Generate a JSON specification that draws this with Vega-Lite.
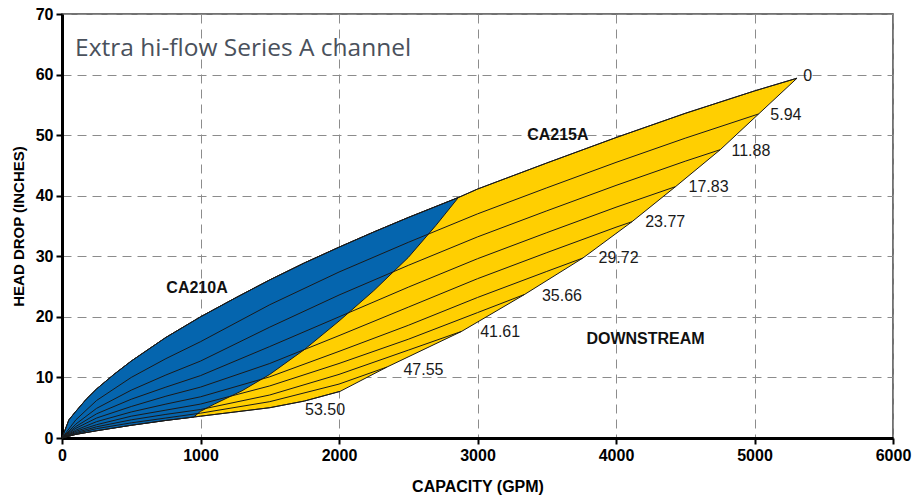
{
  "$schema": "https://vega.github.io/schema/vega-lite/v6.json",
  "width": 831,
  "height": 424,
  "autosize": {"type": "none"},
  "padding": {"left": 62, "top": 14, "right": 20, "bottom": 59},
  "background": "white",
  "config": {
    "view": {"stroke": "#444444", "strokeWidth": 1.5},
    "font": "Liberation Sans"
  },
  "datasets": {
    "yellow": [
      {"i": 1, "x": 0, "y": 0}, {"i": 2, "x": 50, "y": 3.0}, {"i": 3, "x": 100, "y": 4.4}, {"i": 4, "x": 175, "y": 6.4},
      {"i": 5, "x": 250, "y": 8.1}, {"i": 6, "x": 375, "y": 10.5}, {"i": 7, "x": 500, "y": 12.7}, {"i": 8, "x": 750, "y": 16.6},
      {"i": 9, "x": 1000, "y": 20.0}, {"i": 10, "x": 1250, "y": 23.1}, {"i": 11, "x": 1500, "y": 26.1}, {"i": 12, "x": 1750, "y": 28.9},
      {"i": 13, "x": 2000, "y": 31.5}, {"i": 14, "x": 2250, "y": 34.0}, {"i": 15, "x": 2500, "y": 36.4}, {"i": 16, "x": 2862, "y": 39.7},
      {"i": 17, "x": 3000, "y": 41.1}, {"i": 18, "x": 3500, "y": 45.4}, {"i": 19, "x": 4000, "y": 49.6}, {"i": 20, "x": 4500, "y": 53.6},
      {"i": 21, "x": 5000, "y": 57.3}, {"i": 22, "x": 5307, "y": 59.4},
      {"i": 23, "x": 5030, "y": 53.5}, {"i": 24, "x": 4753, "y": 47.6}, {"i": 25, "x": 4430, "y": 41.5}, {"i": 26, "x": 4115, "y": 35.7},
      {"i": 27, "x": 3760, "y": 29.7}, {"i": 28, "x": 3340, "y": 23.7}, {"i": 29, "x": 2885, "y": 17.6}, {"i": 30, "x": 2345, "y": 11.7},
      {"i": 31, "x": 2008, "y": 7.7}, {"i": 32, "x": 1750, "y": 6.1}, {"i": 33, "x": 1500, "y": 5.0}, {"i": 34, "x": 1250, "y": 4.3},
      {"i": 35, "x": 1000, "y": 3.6}, {"i": 36, "x": 750, "y": 2.9}, {"i": 37, "x": 500, "y": 2.1}, {"i": 38, "x": 250, "y": 1.2},
      {"i": 39, "x": 100, "y": 0.6}, {"i": 40, "x": 0, "y": 0}
    ],
    "blue": [
      {"i": 1, "x": 0, "y": 0}, {"i": 2, "x": 50, "y": 3.0}, {"i": 3, "x": 100, "y": 4.4}, {"i": 4, "x": 175, "y": 6.4},
      {"i": 5, "x": 250, "y": 8.1}, {"i": 6, "x": 375, "y": 10.5}, {"i": 7, "x": 500, "y": 12.7}, {"i": 8, "x": 750, "y": 16.6},
      {"i": 9, "x": 1000, "y": 20.0}, {"i": 10, "x": 1250, "y": 23.1}, {"i": 11, "x": 1500, "y": 26.1}, {"i": 12, "x": 1750, "y": 28.9},
      {"i": 13, "x": 2000, "y": 31.5}, {"i": 14, "x": 2250, "y": 34.0}, {"i": 15, "x": 2500, "y": 36.4}, {"i": 16, "x": 2862, "y": 39.7},
      {"i": 17, "x": 2700, "y": 35.1}, {"i": 18, "x": 2500, "y": 29.8}, {"i": 19, "x": 2250, "y": 24.3}, {"i": 20, "x": 2000, "y": 19.3},
      {"i": 21, "x": 1750, "y": 14.6}, {"i": 22, "x": 1500, "y": 10.5}, {"i": 23, "x": 1300, "y": 7.8}, {"i": 24, "x": 1100, "y": 5.6},
      {"i": 25, "x": 1000, "y": 4.4}, {"i": 26, "x": 950, "y": 3.45}, {"i": 27, "x": 750, "y": 2.9}, {"i": 28, "x": 500, "y": 2.1},
      {"i": 29, "x": 250, "y": 1.2}, {"i": 30, "x": 100, "y": 0.6}, {"i": 31, "x": 0, "y": 0}
    ],
    "curves": [
      {"level": "0", "x": 0, "y": 0}, {"level": "0", "x": 50, "y": 3.0}, {"level": "0", "x": 100, "y": 4.4}, {"level": "0", "x": 175, "y": 6.4},
      {"level": "0", "x": 250, "y": 8.1}, {"level": "0", "x": 375, "y": 10.5}, {"level": "0", "x": 500, "y": 12.7}, {"level": "0", "x": 750, "y": 16.6},
      {"level": "0", "x": 1000, "y": 20.0}, {"level": "0", "x": 1250, "y": 23.1}, {"level": "0", "x": 1500, "y": 26.1}, {"level": "0", "x": 1750, "y": 28.9},
      {"level": "0", "x": 2000, "y": 31.5}, {"level": "0", "x": 2250, "y": 34.0}, {"level": "0", "x": 2500, "y": 36.4}, {"level": "0", "x": 2862, "y": 39.7},
      {"level": "0", "x": 3000, "y": 41.1}, {"level": "0", "x": 3500, "y": 45.4}, {"level": "0", "x": 4000, "y": 49.6}, {"level": "0", "x": 4500, "y": 53.6},
      {"level": "0", "x": 5000, "y": 57.3}, {"level": "0", "x": 5307, "y": 59.4},

      {"level": "5.94", "x": 0, "y": 0}, {"level": "5.94", "x": 100, "y": 3.0}, {"level": "5.94", "x": 250, "y": 6.2}, {"level": "5.94", "x": 500, "y": 10.0},
      {"level": "5.94", "x": 750, "y": 13.1}, {"level": "5.94", "x": 1000, "y": 15.9}, {"level": "5.94", "x": 1500, "y": 22.0}, {"level": "5.94", "x": 2000, "y": 27.4},
      {"level": "5.94", "x": 2500, "y": 32.3}, {"level": "5.94", "x": 3000, "y": 37.0}, {"level": "5.94", "x": 3500, "y": 41.3}, {"level": "5.94", "x": 4000, "y": 45.5},
      {"level": "5.94", "x": 4500, "y": 49.5}, {"level": "5.94", "x": 5030, "y": 53.5},

      {"level": "11.88", "x": 0, "y": 0}, {"level": "11.88", "x": 100, "y": 2.3}, {"level": "11.88", "x": 250, "y": 4.9}, {"level": "11.88", "x": 500, "y": 7.9},
      {"level": "11.88", "x": 750, "y": 10.4}, {"level": "11.88", "x": 1000, "y": 12.7}, {"level": "11.88", "x": 1500, "y": 18.3}, {"level": "11.88", "x": 2000, "y": 23.6},
      {"level": "11.88", "x": 2500, "y": 28.5}, {"level": "11.88", "x": 3000, "y": 33.2}, {"level": "11.88", "x": 3500, "y": 37.5}, {"level": "11.88", "x": 4000, "y": 41.7},
      {"level": "11.88", "x": 4500, "y": 45.7}, {"level": "11.88", "x": 4753, "y": 47.6},

      {"level": "17.83", "x": 0, "y": 0}, {"level": "17.83", "x": 100, "y": 1.9}, {"level": "17.83", "x": 250, "y": 4.0}, {"level": "17.83", "x": 500, "y": 6.4},
      {"level": "17.83", "x": 750, "y": 8.4}, {"level": "17.83", "x": 1000, "y": 10.3}, {"level": "17.83", "x": 1500, "y": 15.1}, {"level": "17.83", "x": 2000, "y": 20.0},
      {"level": "17.83", "x": 2500, "y": 24.9}, {"level": "17.83", "x": 3000, "y": 29.6}, {"level": "17.83", "x": 3500, "y": 33.9}, {"level": "17.83", "x": 4000, "y": 38.1},
      {"level": "17.83", "x": 4430, "y": 41.5},

      {"level": "23.77", "x": 0, "y": 0}, {"level": "23.77", "x": 100, "y": 1.6}, {"level": "23.77", "x": 250, "y": 3.3}, {"level": "23.77", "x": 500, "y": 5.2},
      {"level": "23.77", "x": 750, "y": 6.9}, {"level": "23.77", "x": 1000, "y": 8.4}, {"level": "23.77", "x": 1500, "y": 12.3}, {"level": "23.77", "x": 2000, "y": 16.9},
      {"level": "23.77", "x": 2500, "y": 21.6}, {"level": "23.77", "x": 3000, "y": 26.3}, {"level": "23.77", "x": 3500, "y": 30.6}, {"level": "23.77", "x": 4000, "y": 34.8},
      {"level": "23.77", "x": 4115, "y": 35.7},

      {"level": "29.72", "x": 0, "y": 0}, {"level": "29.72", "x": 100, "y": 1.3}, {"level": "29.72", "x": 250, "y": 2.7}, {"level": "29.72", "x": 500, "y": 4.3},
      {"level": "29.72", "x": 750, "y": 5.6}, {"level": "29.72", "x": 1000, "y": 6.8}, {"level": "29.72", "x": 1500, "y": 10.1}, {"level": "29.72", "x": 2000, "y": 14.3},
      {"level": "29.72", "x": 2500, "y": 18.6}, {"level": "29.72", "x": 3000, "y": 23.2}, {"level": "29.72", "x": 3500, "y": 27.5}, {"level": "29.72", "x": 3760, "y": 29.7},

      {"level": "35.66", "x": 0, "y": 0}, {"level": "35.66", "x": 100, "y": 1.1}, {"level": "35.66", "x": 250, "y": 2.2}, {"level": "35.66", "x": 500, "y": 3.6},
      {"level": "35.66", "x": 750, "y": 4.6}, {"level": "35.66", "x": 1000, "y": 5.6}, {"level": "35.66", "x": 1500, "y": 8.6}, {"level": "35.66", "x": 2000, "y": 12.3},
      {"level": "35.66", "x": 2500, "y": 16.3}, {"level": "35.66", "x": 3000, "y": 20.7}, {"level": "35.66", "x": 3340, "y": 23.7},

      {"level": "41.61", "x": 0, "y": 0}, {"level": "41.61", "x": 100, "y": 0.9}, {"level": "41.61", "x": 250, "y": 1.85}, {"level": "41.61", "x": 500, "y": 3.0},
      {"level": "41.61", "x": 750, "y": 3.9}, {"level": "41.61", "x": 1000, "y": 4.7}, {"level": "41.61", "x": 1500, "y": 7.1}, {"level": "41.61", "x": 2000, "y": 10.5},
      {"level": "41.61", "x": 2500, "y": 14.5}, {"level": "41.61", "x": 2885, "y": 17.6},

      {"level": "47.55", "x": 0, "y": 0}, {"level": "47.55", "x": 100, "y": 0.75}, {"level": "47.55", "x": 250, "y": 1.55}, {"level": "47.55", "x": 500, "y": 2.5},
      {"level": "47.55", "x": 750, "y": 3.3}, {"level": "47.55", "x": 1000, "y": 4.1}, {"level": "47.55", "x": 1500, "y": 6.0}, {"level": "47.55", "x": 2000, "y": 8.9},
      {"level": "47.55", "x": 2345, "y": 11.7},

      {"level": "53.50", "x": 0, "y": 0}, {"level": "53.50", "x": 100, "y": 0.6}, {"level": "53.50", "x": 250, "y": 1.2}, {"level": "53.50", "x": 500, "y": 2.1},
      {"level": "53.50", "x": 750, "y": 2.9}, {"level": "53.50", "x": 1000, "y": 3.6}, {"level": "53.50", "x": 1250, "y": 4.3}, {"level": "53.50", "x": 1500, "y": 5.0},
      {"level": "53.50", "x": 1750, "y": 6.1}, {"level": "53.50", "x": 2008, "y": 7.7}
    ],
    "labels": [
      {"t": "0", "x": 5352, "y": 59.8}, {"t": "5.94", "x": 5114, "y": 53.3}, {"t": "11.88", "x": 4834, "y": 47.4},
      {"t": "17.83", "x": 4524, "y": 41.5}, {"t": "23.77", "x": 4211, "y": 35.6}, {"t": "29.72", "x": 3874, "y": 29.65},
      {"t": "35.66", "x": 3465, "y": 23.45}, {"t": "41.61", "x": 3019, "y": 17.5}, {"t": "47.55", "x": 2465, "y": 11.3},
      {"t": "53.50", "x": 1755, "y": 4.6}
    ],
    "bold": [
      {"t": "CA210A", "x": 975, "y": 24.7}, {"t": "CA215A", "x": 3580, "y": 50.0}, {"t": "DOWNSTREAM", "x": 4213, "y": 16.4}
    ],
    "heading": [
      {"t": "Extra hi-flow Series A channel", "x": 94, "y": 63.1}
    ]
  },
  "encoding": {
    "x": {
      "field": "x", "type": "quantitative",
      "scale": {"domain": [0, 6000], "nice": false},
      "axis": {
        "values": [0, 1000, 2000, 3000, 4000, 5000, 6000],
        "format": "d",
        "title": "CAPACITY (GPM)",
        "grid": true, "gridDash": [9, 6], "gridColor": "#8c8c8c", "gridWidth": 1,
        "domainColor": "#000000", "domainWidth": 3,
        "tickColor": "#000000", "tickWidth": 2, "tickSize": 6,
        "labelFont": "Liberation Sans", "labelFontSize": 16, "labelFontWeight": "bold", "labelColor": "#000000", "labelPadding": 3,
        "labelFlush": false,
        "titleFont": "Liberation Sans", "titleFontSize": 16, "titleFontWeight": "bold", "titleColor": "#000000", "titlePadding": 15
      }
    },
    "y": {
      "field": "y", "type": "quantitative",
      "scale": {"domain": [0, 70], "nice": false},
      "axis": {
        "values": [0, 10, 20, 30, 40, 50, 60, 70],
        "title": "HEAD DROP (INCHES)",
        "grid": true, "gridDash": [9, 6], "gridColor": "#8c8c8c", "gridWidth": 1,
        "domainColor": "#000000", "domainWidth": 3,
        "tickColor": "#000000", "tickWidth": 2, "tickSize": 6,
        "labelFont": "Liberation Sans", "labelFontSize": 16, "labelFontWeight": "bold", "labelColor": "#000000", "labelPadding": 3,
        "labelFlush": false,
        "titleFont": "Liberation Sans", "titleFontSize": 15, "titleFontWeight": "bold", "titleColor": "#000000", "titlePadding": 9
      }
    }
  },
  "layer": [
    {
      "data": {"name": "yellow"},
      "mark": {"type": "line", "fill": "#FFCF01", "stroke": "#1a1a1a", "strokeWidth": 1, "strokeJoin": "round"},
      "encoding": {"order": {"field": "i", "type": "quantitative"}}
    },
    {
      "data": {"name": "blue"},
      "mark": {"type": "line", "fill": "#0565AE", "stroke": "#1a1a1a", "strokeWidth": 1, "strokeJoin": "round"},
      "encoding": {"order": {"field": "i", "type": "quantitative"}}
    },
    {
      "data": {"name": "curves"},
      "mark": {"type": "line", "stroke": "#1a1a1a", "strokeWidth": 1, "strokeJoin": "round"},
      "encoding": {"detail": {"field": "level", "type": "nominal"}, "order": {"field": "x", "type": "quantitative"}}
    },
    {
      "data": {"name": "labels"},
      "mark": {"type": "text", "align": "left", "baseline": "middle", "font": "Liberation Sans", "fontSize": 16, "color": "#1a1a1a"},
      "encoding": {"text": {"field": "t", "type": "nominal"}}
    },
    {
      "data": {"name": "bold"},
      "mark": {"type": "text", "align": "center", "baseline": "middle", "font": "Liberation Sans", "fontSize": 16, "fontWeight": "bold", "color": "#111111"},
      "encoding": {"text": {"field": "t", "type": "nominal"}}
    },
    {
      "data": {"name": "heading"},
      "mark": {"type": "text", "align": "left", "baseline": "alphabetic", "font": "Open Sans", "fontSize": 24.5, "fontWeight": 400, "color": "#4a515c"},
      "encoding": {"text": {"field": "t", "type": "nominal"}}
    }
  ]
}
